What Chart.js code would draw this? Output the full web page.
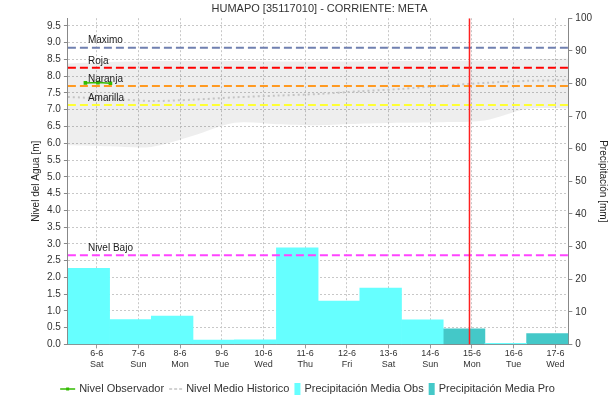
<!DOCTYPE html>
<html>
<head>
<meta charset="utf-8">
<title>HUMAPO [35117010]</title>
<script src="https://cdn.jsdelivr.net/npm/chart.js@4.4.1/dist/chart.umd.min.js"></script>
<style>
  html, body { margin: 0; padding: 0; background: #fff; }
</style>
</head>
<body>
<canvas id="nivelChart" width="615" height="404"></canvas>
<script>
// daily categories
const days = ["6-6", "7-6", "8-6", "9-6", "10-6", "11-6", "12-6", "13-6", "14-6", "15-6", "16-6", "17-6"];
const weekdays = ["Sat", "Sun", "Mon", "Tue", "Wed", "Thu", "Fri", "Sat", "Sun", "Mon", "Tue", "Wed"];

// precipitation [mm], observed and forecast
const precipObs = [23.3, 7.6, 8.7, 1.3, 1.4, 29.6, 13.3, 17.3, 7.5, null, 0.3, null];
const precipPro = [null, null, null, null, null, null, null, null, null, 4.8, null, 3.3];

// observed water level [m]
const obsDays = [0.42, 0.72, 1.02];
const obsLevel = [7.80, 7.81, 7.79];

// historic range and mean [m]
const histDays = [0, 1, 2, 3, 4, 5, 6, 7, 8, 9, 10, 11, 12];
const histLow = [5.94, 5.91, 5.89, 6.22, 6.61, 6.57, 6.54, 6.58, 6.61, 6.63, 6.68, 7.02, 7.04];
const histHigh = [8.38, 8.42, 8.45, 8.45, 8.45, 8.44, 8.44, 8.44, 8.45, 8.46, 8.47, 8.50, 8.52];
const histMean = [7.38, 7.33, 7.26, 7.30, 7.37, 7.42, 7.47, 7.55, 7.62, 7.72, 7.80, 7.86, 7.88];

// alert levels [m]
const thresholdNames = ["Maximo", "Roja", "Naranja", "Amarilla", "Nivel Bajo"];
const thresholdValues = [8.85, 8.25, 7.71, 7.14, 2.66];
const thresholdColors = ["#7080b0", "#ff0000", "#ff9a22", "#ffff33", "#ff44ff"];

const nowDay = 9.63;       // current time marker
const tickOffset = 0.69;   // day label position inside each day
const levelMax = 9.73;

const FONT = "'Liberation Sans', Arial, sans-serif";

function pts(xs, ys) {
  return xs.map((x, i) => ({ x: x, y: ys[i] }));
}

const datasets = [];

// alert levels as flat dashed lines
thresholdNames.forEach((name, i) => {
  datasets.push({
    type: "line",
    label: name,
    data: pts([0, 12], [thresholdValues[i], thresholdValues[i]]),
    borderColor: thresholdColors[i],
    borderWidth: 2,
    borderDash: [8, 4],
    pointRadius: 0,
    order: 2
  });
});

datasets.push({
  type: "line",
  label: "hist-high",
  data: pts(histDays, histHigh),
  borderWidth: 0,
  pointRadius: 0,
  backgroundColor: "rgba(0,0,0,0.065)",
  fill: "+1",
  tension: 0.3,
  order: 4
});
datasets.push({
  type: "line",
  label: "hist-low",
  data: pts(histDays, histLow),
  borderWidth: 0,
  pointRadius: 0,
  fill: false,
  tension: 0.3,
  order: 4
});
datasets.push({
  type: "line",
  label: "Nivel Medio Historico",
  data: pts(histDays, histMean),
  borderColor: "#c4c4c4",
  borderWidth: 2,
  borderDash: [2, 3],
  pointRadius: 0,
  tension: 0.3,
  order: 3
});
datasets.push({
  type: "line",
  label: "Nivel Observador",
  data: pts(obsDays, obsLevel),
  borderColor: "#33bb00",
  backgroundColor: "#33bb00",
  borderWidth: 1.5,
  pointRadius: 1.5,
  pointStyle: "rect",
  order: 1
});
datasets.push({
  type: "line",
  label: "now",
  data: pts([nowDay, nowDay], [0, levelMax]),
  borderColor: "#ff2020",
  borderWidth: 1.5,
  pointRadius: 0,
  order: 0
});
datasets.push({
  type: "bar",
  label: "Precipitación Media Obs",
  data: precipObs,
  xAxisID: "xb",
  yAxisID: "y1",
  backgroundColor: "#66ffff",
  barPercentage: 1,
  categoryPercentage: 1,
  grouped: false,
  order: 5
});
datasets.push({
  type: "bar",
  label: "Precipitación Media Pro",
  data: precipPro,
  xAxisID: "xb",
  yAxisID: "y1",
  backgroundColor: "#44c8c8",
  barPercentage: 1,
  categoryPercentage: 1,
  grouped: false,
  order: 5
});

// names next to the alert lines
const thresholdLabels = {
  id: "thresholdLabels",
  afterDatasetsDraw(chart) {
    const ctx = chart.ctx;
    const x = chart.scales.x.getPixelForValue(0.48);
    ctx.save();
    ctx.font = "10px " + FONT;
    ctx.fillStyle = "#222";
    ctx.textBaseline = "bottom";
    thresholdNames.forEach((name, i) => {
      const y = chart.scales.y.getPixelForValue(thresholdValues[i]);
      ctx.fillText(name, x, y - 2);
    });
    ctx.restore();
  }
};

// legend row under the axis
const legendItems = [
  { text: "Nivel Observador", kind: "obs", width: 15 },
  { text: "Nivel Medio Historico", kind: "mean", width: 13 },
  { text: "Precipitación Media Obs", kind: "box", color: "#66ffff", width: 6 },
  { text: "Precipitación Media Pro", kind: "box", color: "#44c8c8", width: 6 }
];
const legendRow = {
  id: "legendRow",
  afterDraw(chart) {
    const ctx = chart.ctx;
    ctx.save();
    ctx.font = "11px " + FONT;
    const gapText = 4, gapItem = 5;
    let total = 0;
    legendItems.forEach((it, i) => {
      it.tw = ctx.measureText(it.text).width;
      total += it.width + gapText + it.tw + (i ? gapItem : 0);
    });
    let x = chart.width / 2 - total / 2;
    const y = 389;
    legendItems.forEach((it) => {
      if (it.kind === "obs") {
        ctx.strokeStyle = "#33bb00";
        ctx.lineWidth = 1.5;
        ctx.beginPath(); ctx.moveTo(x, y); ctx.lineTo(x + it.width, y); ctx.stroke();
        ctx.fillStyle = "#33bb00";
        ctx.fillRect(x + it.width / 2 - 1.5, y - 1.5, 3, 3);
      } else if (it.kind === "mean") {
        ctx.strokeStyle = "#c4c4c4";
        ctx.lineWidth = 1.5;
        ctx.setLineDash([3, 2]);
        ctx.beginPath(); ctx.moveTo(x, y); ctx.lineTo(x + it.width, y); ctx.stroke();
        ctx.setLineDash([]);
      } else {
        ctx.fillStyle = it.color;
        ctx.fillRect(x, y - 6, it.width, 12);
      }
      x += it.width + gapText;
      ctx.fillStyle = "#333";
      ctx.textBaseline = "middle";
      ctx.fillText(it.text, x, y);
      x += it.tw + gapItem;
    });
    ctx.restore();
  }
};

new Chart(document.getElementById("nivelChart"), {
  type: "bar",
  data: { datasets: datasets },
  plugins: [thresholdLabels, legendRow],
  options: {
    responsive: false,
    animation: false,
    devicePixelRatio: 1,
    layout: { padding: { left: 26, right: 2, top: 0, bottom: 34 } },
    plugins: {
      legend: { display: false },
      tooltip: { enabled: false },
      title: {
        display: true,
        text: "HUMAPO [35117010] - CORRIENTE: META",
        color: "#333",
        font: { family: FONT, size: 11, weight: "normal" },
        padding: { top: 2, bottom: 3 }
      }
    },
    scales: {
      x: {
        type: "linear",
        min: 0,
        max: 12,
        offset: false,
        position: "bottom",
        afterBuildTicks(scale) {
          scale.ticks = days.map((d, i) => ({ value: i + tickOffset }));
        },
        ticks: {
          autoSkip: false,
          maxRotation: 0,
          color: "#333",
          font: { family: FONT, size: 9 },
          padding: 0,
          callback: (v, i) => [days[i], weekdays[i]]
        },
        grid: { color: "#c8c8c8", offset: false, tickLength: 4, tickColor: "#999" },
        border: { color: "#888", dash: [2, 2] }
      },
      xb: {
        type: "category",
        labels: days,
        offset: true,
        display: false,
        grid: { display: false }
      },
      y: {
        position: "left",
        min: 0,
        max: levelMax,
        ticks: {
          stepSize: 0.5,
          includeBounds: false,
          color: "#333",
          font: { family: FONT, size: 10 },
          padding: 3,
          callback: (v) => v.toFixed(1)
        },
        title: {
          display: true,
          text: "Nivel del Agua [m]",
          color: "#222",
          font: { family: FONT, size: 10 },
          padding: { top: 4, bottom: 2 }
        },
        grid: { color: "#c8c8c8", tickLength: 4, tickColor: "#888" },
        border: { color: "#888", dash: [2, 2] }
      },
      y1: {
        position: "right",
        min: 0,
        max: 100,
        ticks: {
          stepSize: 10,
          color: "#333",
          font: { family: FONT, size: 10 },
          padding: 3
        },
        title: {
          display: true,
          text: "Precipitación [mm]",
          color: "#222",
          font: { family: FONT, size: 10 },
          padding: { top: 4, bottom: 2 }
        },
        grid: { drawOnChartArea: false, tickLength: 4, tickColor: "#888" },
        border: { color: "#888" }
      }
    }
  }
});
</script>
</body>
</html>
